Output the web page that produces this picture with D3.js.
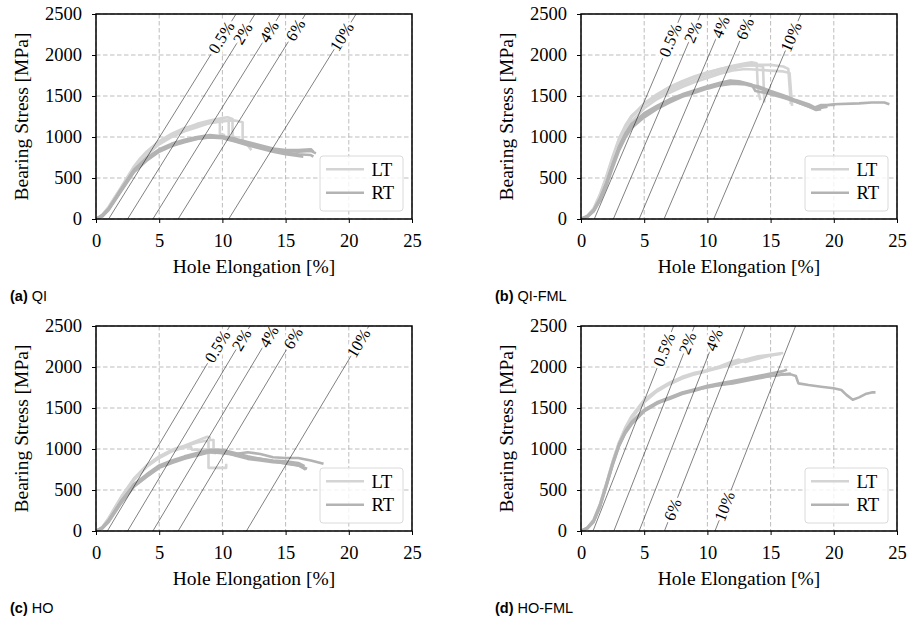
<!DOCTYPE html>
<html>
<head>
<meta charset="utf-8">
<script src="https://cdn.jsdelivr.net/npm/d3@7"></script>
<style>
  body { margin: 0; background: #fff; }
  svg text { font-family: "Liberation Serif", "Times New Roman", serif; fill: #000; font-weight: normal; }
  svg text.cap { font-family: "Liberation Sans", Arial, sans-serif; }
</style>
</head>
<body>
<svg id="fig" width="907" height="626"></svg>
<script>
// axis ticks
const xTicks = [0, 5, 10, 15, 20, 25];
const yTicks = [0, 500, 1000, 1500, 2000, 2500];
const seriesNames = ["LT", "RT"];
const offsetLabels = ["0.5%", "2%", "4%", "6%", "10%"];

// (a) QI  -- [hole elongation %, bearing stress MPa]
const qiLT = [
  [[0,0],[0.5,45],[1,130],[2,370],[3,620],[3.5,720],[4,800],[5,930],[6,1030],[7,1100],[8,1160],[9,1200],[10,1230],[10.4,1240],[10.8,1220],[10.8,1010],[11.1,990]],
  [[0,0],[0.5,50],[1,150],[2,390],[3,640],[3.5,740],[4,820],[5,950],[6,1040],[7,1110],[8,1150],[9,1190],[9.8,1210],[9.8,1040],[10.2,1020]],
  [[0,0],[0.5,35],[1,120],[2,350],[3,600],[3.5,700],[4,780],[5,910],[6,1000],[7,1070],[8,1120],[9,1170],[10,1190],[10.5,1200],[10.5,1010]],
  [[0,0],[0.5,40],[1,140],[2,380],[3,630],[3.5,730],[4,790],[5,920],[6,1010],[7,1080],[8,1130],[9,1170],[10,1200],[11,1200],[11.6,1180],[11.6,960],[12,900],[12.3,840]]
];
const qiRT = [
  [[0,0],[0.5,40],[1,120],[2,360],[3,590],[4,730],[5,840],[6,910],[7,955],[8,990],[9,1010],[10,1000],[11,960],[12,920],[13,880],[14,850],[15,830],[16,820],[17,830],[17.4,800]],
  [[0,0],[0.5,50],[1,130],[2,370],[3,600],[4,745],[5,850],[6,920],[7,965],[8,1000],[9,1025],[10,1010],[11,980],[12,940],[13,900],[14,860],[15,840],[16,840],[17,850],[17.2,820]],
  [[0,0],[0.5,30],[1,110],[2,340],[3,570],[4,710],[5,820],[6,890],[7,935],[8,975],[9,995],[10,985],[11,945],[12,900],[13,860],[14,820],[15,790],[16,770],[16.4,760]],
  [[0,0],[0.5,40],[1,120],[2,350],[3,580],[4,720],[5,830],[6,900],[7,945],[8,980],[9,1000],[10,990],[11,950],[12,910],[13,870],[14,840],[15,810],[16,790],[17,780],[17.2,760]]
];
const qiOffsetStart = [1.0, 2.5, 4.5, 6.5, 10.5];
const qiSlope = 248;
const qiLabelStress = [2213, 2262, 2282, 2303, 2221];

// (b) QI-FML
const qfmlLT = [
  [[0,0],[0.5,30],[1,110],[1.5,270],[2,490],[2.5,720],[3,940],[3.5,1110],[4,1240],[5,1400],[6,1510],[7,1600],[8,1670],[9,1730],[10,1780],[11,1830],[12,1870],[13,1900],[13.5,1910],[13.9,1900],[14.0,1560],[14.2,1450]],
  [[0,0],[0.5,40],[1,130],[1.5,300],[2,520],[2.5,760],[3,980],[3.5,1140],[4,1260],[5,1390],[6,1490],[7,1570],[8,1640],[9,1700],[10,1750],[11,1800],[12,1840],[13,1870],[14,1880],[15,1880],[16,1860],[16.4,1830],[16.6,1400]],
  [[0,0],[0.5,30],[1,100],[1.5,250],[2,460],[2.5,690],[3,900],[3.5,1060],[4,1190],[5,1350],[6,1460],[7,1540],[8,1610],[9,1670],[10,1720],[11,1770],[12,1810],[13,1830],[14,1820],[15,1810],[16,1800],[16.5,1780],[16.7,1380]],
  [[0,0],[0.5,35],[1,120],[1.5,280],[2,500],[2.5,740],[3,960],[3.5,1120],[4,1250],[5,1410],[6,1520],[7,1610],[8,1680],[9,1740],[10,1790],[11,1830],[12,1860],[13,1880],[14,1870],[14.4,1860],[14.5,1420]]
];
const qfmlRT = [
  [[0,0],[0.5,30],[1,100],[1.5,230],[2,420],[2.5,650],[3,860],[3.5,1020],[4,1140],[5,1270],[6,1360],[7,1440],[8,1510],[9,1560],[10,1600],[11,1640],[12,1670],[13,1650],[14,1610],[15,1550],[16,1500],[17,1440],[18,1380],[18.7,1340],[19.2,1380],[20,1400],[22,1410],[23,1420],[24,1420],[24.4,1400]],
  [[0,0],[0.5,25],[1,90],[1.5,220],[2,400],[2.5,620],[3,830],[3.5,990],[4,1110],[5,1240],[6,1340],[7,1420],[8,1490],[9,1540],[10,1590],[11,1630],[12,1650],[13,1640],[14,1600],[15,1540],[16,1490],[17,1430],[18,1370],[18.6,1330],[19,1340]],
  [[0,0],[0.5,35],[1,110],[1.5,250],[2,440],[2.5,670],[3,880],[3.5,1040],[4,1160],[5,1290],[6,1380],[7,1460],[8,1520],[9,1570],[10,1620],[11,1660],[11.8,1690],[12.5,1680],[13.5,1640],[13.8,1560],[14.5,1540],[15,1520],[16,1480],[17,1430],[18,1370],[18.8,1350],[19.5,1370]],
  [[0,0],[0.5,30],[1,100],[1.5,240],[2,430],[2.5,660],[3,870],[3.5,1030],[4,1150],[5,1280],[6,1370],[7,1450],[8,1510],[9,1560],[10,1610],[11,1650],[12,1660],[13,1650],[14,1620],[15,1560],[16,1510],[17,1450],[18,1400],[18.5,1360],[19,1390],[20.1,1390]]
];
const qfmlOffsetStart = [1.05, 2.56, 4.6, 6.57, 10.5];
const qfmlSlope = 362;
const qfmlLabelStress = [2180, 2280, 2340, 2320, 2220];

// (c) HO
const hoLT = [
  [[0,0],[0.5,50],[1,160],[2,420],[3,640],[4,800],[5,910],[6,990],[7,1040],[8,1100],[8.8,1150],[9.0,1140],[9.0,1110],[9.3,1110],[9.3,990]],
  [[0,0],[0.5,40],[1,140],[2,400],[3,620],[4,780],[5,890],[6,970],[7,1020],[7.5,1030],[7.6,990],[8.5,990],[8.9,1000],[8.9,770],[10.3,770],[10.3,820]],
  [[0,0],[0.5,45],[1,150],[2,410],[3,630],[4,790],[5,900],[6,980],[7,1030],[8,1080],[8.7,1100],[8.9,1090],[8.9,960],[9.5,950]]
];
const hoRT = [
  [[0,0],[0.5,40],[1,130],[2,370],[3,560],[4,680],[5,790],[6,850],[7,900],[8,940],[9,970],[10,960],[11,940],[12,960],[13,940],[14,900],[15,890],[16,890],[17,860],[18,820]],
  [[0,0],[0.5,35],[1,120],[2,350],[3,550],[4,670],[5,780],[6,840],[7,890],[8,930],[9,980],[10,970],[11,920],[12,880],[13,860],[14,840],[15,830],[16,800],[16.6,750]],
  [[0,0],[0.5,40],[1,130],[2,360],[3,570],[4,690],[5,800],[6,860],[7,910],[8,950],[9,990],[10,990],[11,950],[12,910],[13,880],[14,850],[15,820],[16,800],[16.7,760]],
  [[0,0],[0.5,30],[1,110],[2,340],[3,540],[4,660],[5,770],[6,830],[7,880],[8,920],[9,960],[10,950],[11,930],[12,900],[13,880],[14,860],[15,850],[16,830],[16.5,790]]
];
const hoOffsetStart = [0.9, 2.5, 4.5, 6.5, 11.9];
const hoSlope = 258;
const hoLabelStress = [2250, 2330, 2370, 2350, 2290];

// (d) HO-FML
const hofmlLT = [
  [[0,0],[0.5,40],[1,140],[1.5,330],[2,580],[2.5,850],[3,1080],[3.5,1260],[4,1400],[5,1600],[6,1720],[7,1810],[8,1880],[9,1930],[10,1960],[11,2000],[12,2050],[13,2090],[14,2130],[15,2150],[15.5,2160],[16,2170]],
  [[0,0],[0.5,30],[1,120],[1.5,300],[2,550],[2.5,820],[3,1050],[3.5,1230],[4,1370],[5,1570],[6,1700],[7,1790],[8,1860],[9,1910],[10,1950],[11,1990],[12,2030],[13,2080],[14,2110],[14.8,2140],[15.3,2150]],
  [[0,0],[0.5,35],[1,130],[1.5,320],[2,570],[2.5,840],[3,1070],[3.5,1250],[4,1390],[5,1590],[6,1710],[7,1800],[8,1870],[9,1920],[10,1960],[11,2010],[12,2070],[12.5,2090],[13,2060],[14,2100],[15,2140],[15.8,2160]]
];
const hofmlRT = [
  [[0,0],[0.5,30],[1,110],[1.5,290],[2,540],[2.5,800],[3,1030],[3.5,1190],[4,1300],[5,1460],[6,1550],[7,1620],[8,1680],[9,1720],[10,1750],[11,1780],[12,1810],[13,1840],[14,1870],[15,1890],[16,1910],[16.6,1910],[17,1890],[17.2,1800],[18,1780],[19,1760],[20,1740],[20.6,1720],[21,1660],[21.5,1600],[22,1630],[22.5,1670],[23,1690],[23.3,1690]],
  [[0,0],[0.5,40],[1,130],[1.5,320],[2,570],[2.5,830],[3,1060],[3.5,1220],[4,1330],[5,1480],[6,1570],[7,1630],[8,1690],[9,1730],[10,1770],[11,1800],[12,1830],[13,1860],[14,1890],[15,1920],[16,1950],[16.3,1970]],
  [[0,0],[0.5,35],[1,120],[1.5,300],[2,550],[2.5,810],[3,1040],[3.5,1200],[4,1310],[5,1470],[6,1560],[7,1610],[8,1670],[9,1710],[10,1760],[11,1780],[12,1800],[13,1830],[14,1860],[15,1890],[16,1910],[16.6,1920]]
];
const hofmlOffsetStart = [0.95, 2.6, 4.6, 6.6, 10.6];
const hofmlSlope = 392;
const hofmlLabelStress = [2210, 2290, 2330, 260, 300];

const panels = [
  { tag: "(a)", name: "QI", lt: qiLT, rt: qiRT, start: qiOffsetStart, slope: qiSlope, labelAt: qiLabelStress, left: 96, top: 14 },
  { tag: "(b)", name: "QI-FML", lt: qfmlLT, rt: qfmlRT, start: qfmlOffsetStart, slope: qfmlSlope, labelAt: qfmlLabelStress, left: 581, top: 14 },
  { tag: "(c)", name: "HO", lt: hoLT, rt: hoRT, start: hoOffsetStart, slope: hoSlope, labelAt: hoLabelStress, left: 96, top: 326 },
  { tag: "(d)", name: "HO-FML", lt: hofmlLT, rt: hofmlRT, start: hofmlOffsetStart, slope: hofmlSlope, labelAt: hofmlLabelStress, left: 581, top: 326 }
];

const W = 316, H = 205;
const serif = "'Liberation Serif', 'Times New Roman', serif";
const colors = { LT: "#d4d4d4", RT: "#b3b3b3" };
const svg = d3.select("#fig");

panels.forEach((p, pi) => {
  const g = svg.append("g").attr("transform", `translate(${p.left},${p.top})`);
  const x = d3.scaleLinear().domain([0, 25]).range([0, W]);
  const y = d3.scaleLinear().domain([0, 2500]).range([H, 0]);

  // grid
  g.append("g").selectAll("line").data(xTicks).join("line")
    .attr("x1", d => x(d)).attr("x2", d => x(d)).attr("y1", 0).attr("y2", H)
    .attr("stroke", "#b5b5b5").attr("stroke-width", 0.9).attr("stroke-dasharray", "4.5,2.5");
  g.append("g").selectAll("line").data(yTicks).join("line")
    .attr("x1", 0).attr("x2", W).attr("y1", d => y(d)).attr("y2", d => y(d))
    .attr("stroke", "#b5b5b5").attr("stroke-width", 0.9).attr("stroke-dasharray", "4.5,2.5");

  const clipId = "clip" + pi;
  g.append("clipPath").attr("id", clipId).append("rect").attr("width", W).attr("height", H);
  const plot = g.append("g").attr("clip-path", `url(#${clipId})`);

  const line = d3.line().x(d => x(d[0])).y(d => y(d[1]));
  plot.selectAll("path.lt").data(p.lt).join("path").attr("class", "lt")
    .attr("d", line).attr("fill", "none").attr("stroke", colors.LT)
    .attr("stroke-width", 2.6).attr("stroke-linejoin", "round");
  plot.selectAll("path.rt").data(p.rt).join("path").attr("class", "rt")
    .attr("d", line).attr("fill", "none").attr("stroke", colors.RT)
    .attr("stroke-width", 2.6).attr("stroke-linejoin", "round");

  // offset lines
  const angle = Math.atan2(y(0) - y(p.slope), x(1) - x(0)) * 180 / Math.PI;
  p.start.forEach((s, i) => {
    plot.append("line")
      .attr("x1", x(s)).attr("y1", y(0))
      .attr("x2", x(s + 2500 / p.slope)).attr("y2", y(2500))
      .attr("stroke", "#000").attr("stroke-width", 0.5);
    const ls = p.labelAt[i];
    const lx = x(s + ls / p.slope), ly = y(ls);
    plot.append("text")
      .attr("transform", `translate(${lx},${ly}) rotate(${-angle})`)
      .attr("text-anchor", "middle").attr("dy", "0.33em")
      .style("font-size", "16.5px")
      .attr("stroke", "#fff").attr("stroke-width", 6).attr("paint-order", "stroke")
      .attr("stroke-linejoin", "round")
      .text(offsetLabels[i]);
  });

  // frame
  g.append("rect").attr("width", W).attr("height", H)
    .attr("fill", "none").attr("stroke", "#000").attr("stroke-width", 1.5);

  const xAxis = g.append("g").attr("transform", `translate(0,${H})`)
    .call(d3.axisBottom(x).tickValues(xTicks).tickFormat(d3.format("d")).tickSize(4).tickPadding(11));
  const yAxis = g.append("g")
    .call(d3.axisLeft(y).tickValues(yTicks).tickFormat(d3.format("d")).tickSize(4).tickPadding(10));
  [xAxis, yAxis].forEach(a => {
    a.attr("font-family", serif).attr("font-size", null);
    a.select(".domain").remove();
    a.selectAll(".tick line").attr("stroke", "#000").attr("stroke-width", 1);
    a.selectAll(".tick text").style("font-family", serif).style("font-size", "18.5px");
  });

  g.append("text").attr("x", W / 2).attr("y", H + 53.5).attr("text-anchor", "middle")
    .style("font-size", "19.5px").text("Hole Elongation [%]");
  g.append("text").attr("transform", `translate(-68,${H / 2}) rotate(-90)`)
    .attr("text-anchor", "middle").style("font-size", "19.5px").text("Bearing Stress [MPa]");

  // legend
  const lg = g.append("g").attr("transform", `translate(${W - 92},${H - 63})`);
  lg.append("rect").attr("width", 83).attr("height", 55).attr("rx", 3)
    .attr("fill", "#fff").attr("fill-opacity", 0.8).attr("stroke", "#dadada").attr("stroke-width", 1);
  seriesNames.forEach((n, i) => {
    lg.append("line").attr("x1", 6).attr("x2", 44)
      .attr("y1", 13.3 + i * 23.4).attr("y2", 13.3 + i * 23.4)
      .attr("stroke", colors[n]).attr("stroke-width", 2.6);
    lg.append("text").attr("x", 51.5).attr("y", 19.5 + i * 23.4)
      .style("font-size", "18.5px").text(n);
  });

  // caption
  const cap = svg.append("text").attr("class", "cap")
    .attr("x", p.left - 86).attr("y", p.top + H + 82)
    .style("font-size", "14.5px");
  cap.append("tspan").style("font-weight", "bold").text(p.tag);
  cap.append("tspan").text(" " + p.name);
});
</script>
</body>
</html>
